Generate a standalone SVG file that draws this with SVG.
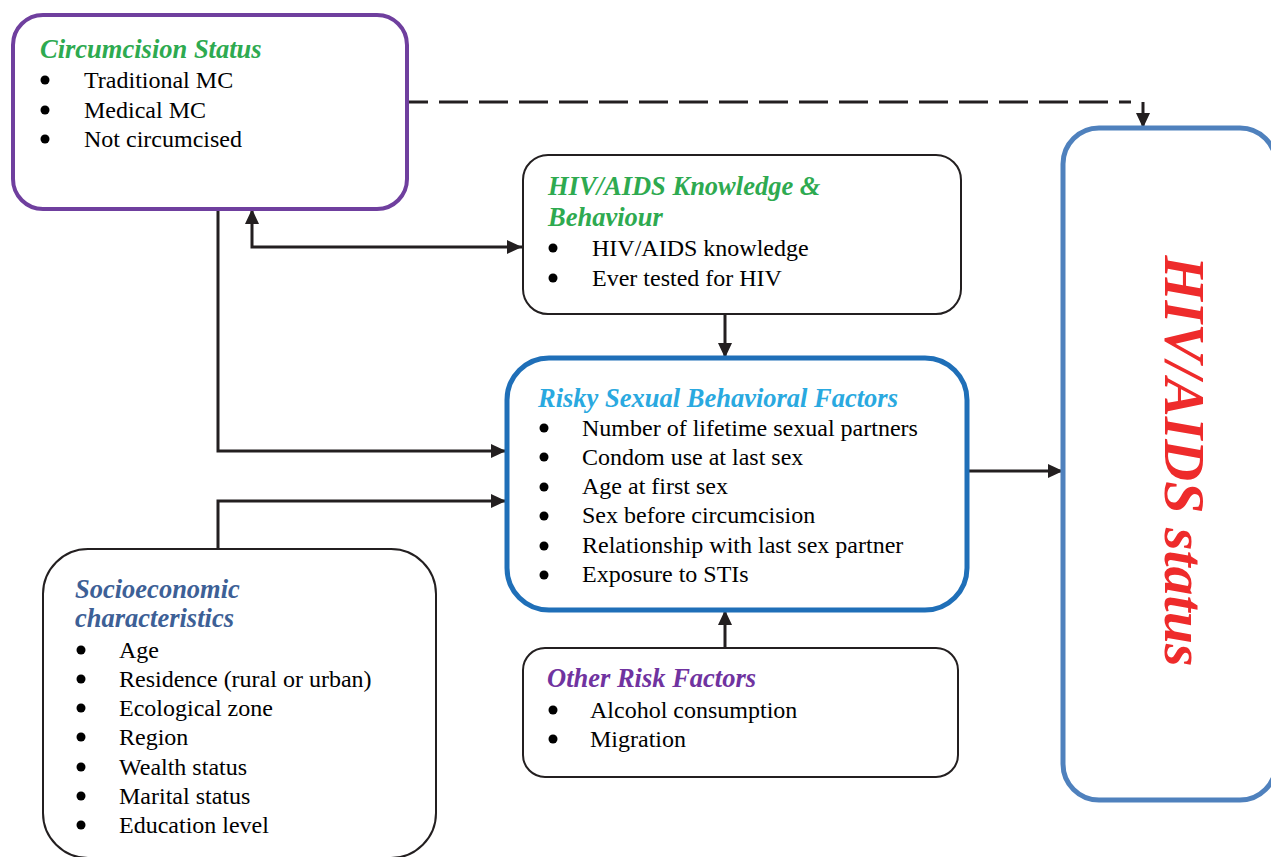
<svg xmlns="http://www.w3.org/2000/svg" width="1271" height="857" viewBox="0 0 1271 857">
<style>
.box{fill:#fff}
.thin{stroke:#231f20;stroke-width:2}
.ttl{font-family:"Liberation Serif","Times New Roman",serif;font-size:26.5px;font-weight:bold;font-style:italic}
.itm{font-family:"Liberation Serif","Times New Roman",serif;font-size:24px;fill:#000}
.bul{fill:#000}
.con{fill:none;stroke:#231f20;stroke-width:3}
</style>
<defs>
<marker id="ah" markerUnits="userSpaceOnUse" markerWidth="15" markerHeight="14" refX="15" refY="7" orient="auto-start-reverse" viewBox="0 0 15 14">
<path d="M0,0 L15,7 L0,14 z" fill="#231f20"/>
</marker>
</defs>

<g id="connectors">
<path class="con" d="M407,102 H1131" stroke-dasharray="29 11" stroke-dashoffset="8"/>
<path class="con" d="M1143,102 V128" marker-end="url(#ah)"/>
<path class="con" d="M218,209 V451 H506" marker-end="url(#ah)"/>
<path class="con" d="M252,209 V247 H522" marker-start="url(#ah)" marker-end="url(#ah)"/>
<path class="con" d="M218,549 V501 H506" marker-end="url(#ah)"/>
<path class="con" d="M725,314 V358" marker-end="url(#ah)"/>
<path class="con" d="M725,648 V610" marker-end="url(#ah)"/>
<path class="con" d="M967,471 H1063" marker-end="url(#ah)"/>
</g>

<g id="circumcision">
<rect class="box" x="13" y="15" width="394" height="194" rx="30" stroke="#6f3f9e" stroke-width="4"/>
<text class="ttl" x="40" y="58" fill="#2eaa50">Circumcision Status</text>
<circle class="bul" cx="45" cy="80" r="4.5"/>
<circle class="bul" cx="45" cy="110" r="4.5"/>
<circle class="bul" cx="45" cy="139" r="4.5"/>
<text class="itm" x="84" y="88">Traditional MC</text>
<text class="itm" x="84" y="118">Medical MC</text>
<text class="itm" x="84" y="147">Not circumcised</text>
</g>

<g id="knowledge">
<rect class="box thin" x="523" y="155" width="438" height="159" rx="25"/>
<text class="ttl" x="548" y="195" fill="#2eaa50">HIV/AIDS Knowledge &amp;</text>
<text class="ttl" x="548" y="226" fill="#2eaa50">Behaviour</text>
<circle class="bul" cx="553" cy="248" r="4.5"/>
<circle class="bul" cx="553" cy="278" r="4.5"/>
<text class="itm" x="592" y="256">HIV/AIDS knowledge</text>
<text class="itm" x="592" y="286">Ever tested for HIV</text>
</g>

<g id="risky">
<rect class="box" x="507" y="358" width="460" height="252" rx="42" stroke="#1f6fb8" stroke-width="5"/>
<text class="ttl" x="538" y="407" fill="#2aa9e0">Risky Sexual Behavioral Factors</text>
<circle class="bul" cx="544" cy="428" r="4.5"/>
<circle class="bul" cx="544" cy="457" r="4.5"/>
<circle class="bul" cx="544" cy="487" r="4.5"/>
<circle class="bul" cx="544" cy="516" r="4.5"/>
<circle class="bul" cx="544" cy="546" r="4.5"/>
<circle class="bul" cx="544" cy="575" r="4.5"/>
<text class="itm" x="582" y="436">Number of lifetime sexual partners</text>
<text class="itm" x="582" y="465">Condom use at last sex</text>
<text class="itm" x="582" y="494">Age at first sex</text>
<text class="itm" x="582" y="523">Sex before circumcision</text>
<text class="itm" x="582" y="553">Relationship with last sex partner</text>
<text class="itm" x="582" y="582">Exposure to STIs</text>
</g>

<g id="other">
<rect class="box thin" x="523" y="648" width="435" height="129" rx="22"/>
<text class="ttl" x="547" y="687" fill="#7033a0">Other Risk Factors</text>
<circle class="bul" cx="553" cy="710" r="4.5"/>
<circle class="bul" cx="553" cy="739" r="4.5"/>
<text class="itm" x="590" y="718">Alcohol consumption</text>
<text class="itm" x="590" y="747">Migration</text>
</g>

<g id="socioeconomic">
<rect class="box thin" x="43" y="549" width="393" height="309" rx="45"/>
<text class="ttl" x="75" y="598" fill="#3d6096">Socioeconomic</text>
<text class="ttl" x="75" y="627" fill="#3d6096">characteristics</text>
<circle class="bul" cx="81" cy="650" r="4.5"/>
<circle class="bul" cx="81" cy="679" r="4.5"/>
<circle class="bul" cx="81" cy="708" r="4.5"/>
<circle class="bul" cx="81" cy="737" r="4.5"/>
<circle class="bul" cx="81" cy="767" r="4.5"/>
<circle class="bul" cx="81" cy="796" r="4.5"/>
<circle class="bul" cx="81" cy="825" r="4.5"/>
<text class="itm" x="119" y="658">Age</text>
<text class="itm" x="119" y="687">Residence (rural or urban)</text>
<text class="itm" x="119" y="716">Ecological zone</text>
<text class="itm" x="119" y="745">Region</text>
<text class="itm" x="119" y="775">Wealth status</text>
<text class="itm" x="119" y="804">Marital status</text>
<text class="itm" x="119" y="833">Education level</text>
</g>

<g id="hiv-status">
<rect class="box" x="1063" y="128" width="213" height="672" rx="36" stroke="#4f81bd" stroke-width="5"/>
<text class="ttl" transform="translate(1165,461) rotate(90)" text-anchor="middle" style="font-size:58px" fill="#ee2b2b">HIV/AIDS status</text>
</g>
</svg>
